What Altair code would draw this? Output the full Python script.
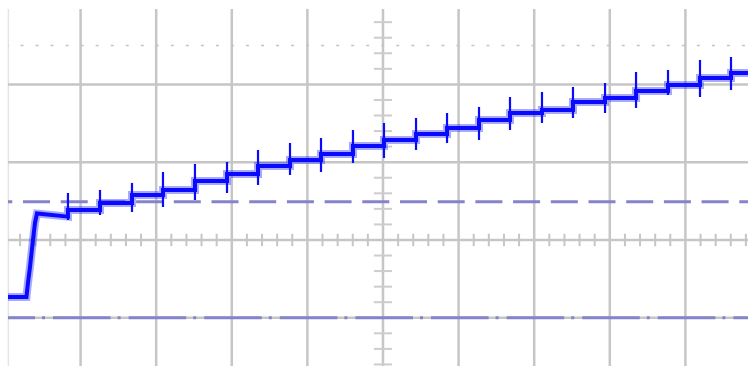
import altair as alt
import pandas as pd

# ---- data (in screen divisions: x = time div, y = volt div) ----
x_left, x_right = -4.960, 4.828
y_bottom, y_top = -1.620, 2.969

base_level = -0.733
ramp_x = [-4.716, -4.696, -4.669, -4.630, -4.603, -4.577]
ramp_y = [-0.733, -0.553, -0.347, 0.000, 0.219, 0.340]
first_level = 0.300

step_x = [-4.167, -3.743, -3.320, -2.910, -2.487, -2.063, -1.653, -1.230, -0.820, -0.397,
          0.013, 0.437, 0.847, 1.270, 1.680, 2.103, 2.513, 2.937, 3.347, 3.770, 4.193, 4.603]
plateau = [0.386, 0.476, 0.578, 0.643, 0.758, 0.848, 0.951, 1.028, 1.105, 1.208,
           1.285, 1.362, 1.440, 1.542, 1.632, 1.671, 1.774, 1.825, 1.915, 1.992, 2.082, 2.147]
spike_top = [0.604, 0.643, 0.733, 0.874, 0.977, 1.003, 1.157, 1.247, 1.311, 1.414,
             1.504, 1.568, 1.632, 1.710, 1.838, 1.902, 1.967, 2.018, 2.159, 2.185, 2.314, 2.352]
spike_low = [0.257, 0.321, 0.360, 0.424, 0.514, 0.604, 0.707, 0.835, 0.874, 0.990,
             1.054, 1.157, 1.247, 1.285, 1.414, 1.504, 1.568, 1.632, 1.697, 1.864, 1.838, 1.928]

grid_x = [-4, -3, -2, -1, 0, 1, 2, 3, 4]
grid_y = [-1, 0, 1, 2]
dotted_level = 2.5
dashed_level = 0.49
dashdot_level = -1.0

# ---- build tables ----
tx, ty = [x_left], [base_level]
tx += ramp_x
ty += ramp_y
prev = first_level
for sx, lv in zip(step_x, plateau):
    tx += [sx, sx]
    ty += [prev, lv]
    prev = lv
tx.append(x_right)
ty.append(prev)
trace = pd.DataFrame({"x": tx, "y": ty, "o": list(range(len(tx)))})
spikes = pd.DataFrame({"x": step_x, "y": spike_low, "y2": spike_top})

minor_x = [g + k * 0.2 for g in range(-5, 5) for k in range(1, 5)]
minor_y = [g + k * 0.2 for g in range(-2, 3) for k in range(1, 5)]
hticks = pd.DataFrame({"x": minor_x, "y": [-0.08] * len(minor_x), "y2": [0.08] * len(minor_x)})
vticks = pd.DataFrame({"y": minor_y, "x": [-0.12] * len(minor_y), "x2": [0.12] * len(minor_y)})

xs = alt.Scale(domain=[x_left, x_right], nice=False, zero=False)
ys = alt.Scale(domain=[y_bottom, y_top], nice=False, zero=False)

GRID = "#c6c6c6"
BLUE = "#0a0aff"


def hline(level, color, width, dash, offset):
    df = pd.DataFrame({"x": [x_left], "x2": [x_right], "y": [level]})
    return alt.Chart(df).mark_rule(
        color=color, strokeWidth=width, strokeDash=dash, strokeDashOffset=offset
    ).encode(
        x=alt.X("x:Q", scale=xs, axis=None),
        x2="x2:Q",
        y=alt.Y("y:Q", scale=ys, axis=None),
    )


vgrid = alt.Chart(pd.DataFrame({"x": grid_x})).mark_rule(color=GRID, strokeWidth=2.5).encode(
    x=alt.X("x:Q", scale=xs, axis=None))
border = alt.Chart(pd.DataFrame({"x": [x_left + 0.005]})).mark_rule(color="#e4e4e4", strokeWidth=1.5).encode(
    x=alt.X("x:Q", scale=xs, axis=None))
hgrid = alt.Chart(pd.DataFrame({"y": grid_y})).mark_rule(color=GRID, strokeWidth=2.5).encode(
    y=alt.Y("y:Q", scale=ys, axis=None))
ht = alt.Chart(hticks).mark_rule(color=GRID, strokeWidth=2).encode(
    x=alt.X("x:Q", scale=xs, axis=None), y=alt.Y("y:Q", scale=ys, axis=None), y2="y2:Q")
vt = alt.Chart(vticks).mark_rule(color="#cdcdcd", strokeWidth=2).encode(
    y=alt.Y("y:Q", scale=ys, axis=None), x=alt.X("x:Q", scale=xs, axis=None), x2="x2:Q")

dotted = hline(dotted_level, "#c4c4c4", 1.5, [3, 12.03], 2.5)
dashed = hline(dashed_level, "#8484cc", 3, [27, 10.7], 22.7)
dashdot = hline(dashdot_level, "#8484cc", 3, [57.6, 7, 3, 8], 30.6)

enc = dict(
    x=alt.X("x:Q", scale=xs, axis=None),
    y=alt.Y("y:Q", scale=ys, axis=None),
    order="o:Q",
)
halo = alt.Chart(trace).mark_line(color=BLUE, strokeWidth=8, opacity=0.35, strokeJoin="miter", clip=True).encode(**enc)
line = alt.Chart(trace).mark_line(color=BLUE, strokeWidth=4, strokeJoin="miter", clip=True).encode(**enc)
spk = alt.Chart(spikes).mark_rule(color=BLUE, strokeWidth=2.2).encode(
    x=alt.X("x:Q", scale=xs, axis=None), y=alt.Y("y:Q", scale=ys, axis=None), y2="y2:Q")

chart = alt.layer(border, vgrid, hgrid, ht, vt, dotted, dashed, dashdot, halo, line, spk).properties(
    width=740, height=357,
    autosize=alt.AutoSizeParams(type="none"),
    padding={"left": 8, "top": 9, "right": 0, "bottom": 0},
    background="white",
).configure_view(stroke=None)

chart.save("out.html", embed_options={"renderer": "svg", "actions": False})
